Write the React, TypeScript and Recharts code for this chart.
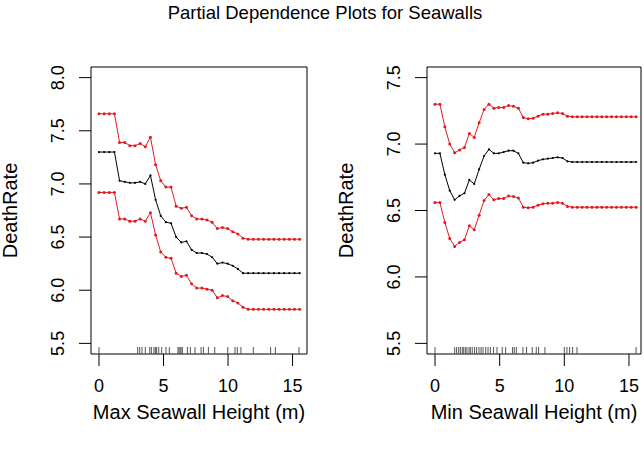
import React from 'react';
import { ComposedChart, Line, Scatter, XAxis, YAxis, ReferenceArea } from 'recharts';

// ---------- data ----------
const maxHeightX = [
  0, 0.399, 0.797, 1.196, 1.595, 1.994, 2.392, 2.791, 3.19, 3.588,
  3.987, 4.386, 4.784, 5.183, 5.582, 5.981, 6.379, 6.778, 7.177, 7.575,
  7.974, 8.373, 8.771, 9.17, 9.569, 9.968, 10.366, 10.765, 11.164, 11.562,
  11.961, 12.36, 12.758, 13.157, 13.556, 13.955, 14.353, 14.752, 15.151, 15.549,
];
const maxHeightFit = [
  7.3, 7.3, 7.3, 7.3, 7.03, 7.02, 7.01, 7.01, 7.02, 7.0,
  7.08, 6.85, 6.7, 6.64, 6.63, 6.5, 6.45, 6.46, 6.38, 6.35,
  6.35, 6.34, 6.31, 6.25, 6.26, 6.25, 6.23, 6.2, 6.16, 6.16,
  6.16, 6.16, 6.16, 6.16, 6.16, 6.16, 6.16, 6.16, 6.16, 6.16,
];
const maxHeightUpper = [
  7.66, 7.66, 7.66, 7.66, 7.39, 7.39, 7.36, 7.36, 7.38, 7.35,
  7.44, 7.18, 7.03, 6.97, 6.97, 6.79, 6.77, 6.78, 6.7, 6.67,
  6.67, 6.66, 6.64, 6.58, 6.59, 6.58, 6.55, 6.53, 6.49, 6.48,
  6.48, 6.48, 6.48, 6.48, 6.48, 6.48, 6.48, 6.48, 6.48, 6.48,
];
const maxHeightLower = [
  6.92, 6.92, 6.92, 6.92, 6.67, 6.67, 6.65, 6.65, 6.67, 6.65,
  6.73, 6.52, 6.36, 6.31, 6.3, 6.16, 6.13, 6.14, 6.06, 6.02,
  6.02, 6.01, 6.0, 5.93, 5.95, 5.94, 5.9, 5.88, 5.84, 5.82,
  5.82, 5.82, 5.82, 5.82, 5.82, 5.82, 5.82, 5.82, 5.82, 5.82,
];

const minHeightX = [
  0, 0.379, 0.759, 1.138, 1.517, 1.896, 2.276, 2.655, 3.034, 3.413,
  3.793, 4.172, 4.551, 4.931, 5.31, 5.689, 6.068, 6.448, 6.827, 7.206,
  7.585, 7.965, 8.344, 8.723, 9.102, 9.482, 9.861, 10.24, 10.62, 10.999,
  11.378, 11.757, 12.137, 12.516, 12.895, 13.274, 13.654, 14.033, 14.412, 14.791,
  15.171, 15.55,
];
const minHeightFit = [
  6.93, 6.93, 6.77, 6.65, 6.58, 6.61, 6.63, 6.73, 6.7, 6.81,
  6.91, 6.96, 6.93, 6.93, 6.94, 6.95, 6.95, 6.93, 6.86, 6.855,
  6.86, 6.875, 6.885, 6.89, 6.895, 6.9, 6.895, 6.87, 6.865, 6.865,
  6.865, 6.865, 6.865, 6.865, 6.865, 6.865, 6.865, 6.865, 6.865, 6.865,
  6.865, 6.865,
];
const minHeightUpper = [
  7.3, 7.3, 7.13, 7.0, 6.935, 6.955, 6.975, 7.08, 7.05, 7.16,
  7.26, 7.3, 7.27, 7.275, 7.275, 7.29, 7.285, 7.27, 7.2, 7.19,
  7.195, 7.21, 7.225, 7.225, 7.23, 7.235, 7.23, 7.21, 7.205, 7.205,
  7.205, 7.205, 7.205, 7.205, 7.205, 7.205, 7.205, 7.205, 7.205, 7.205,
  7.205, 7.205,
];
const minHeightLower = [
  6.56, 6.56, 6.41, 6.29, 6.23, 6.26, 6.28, 6.385, 6.355, 6.465,
  6.575, 6.62, 6.58, 6.59, 6.59, 6.61, 6.605, 6.595, 6.525, 6.52,
  6.525, 6.54, 6.55, 6.555, 6.555, 6.56, 6.555, 6.53, 6.525, 6.525,
  6.525, 6.525, 6.525, 6.525, 6.525, 6.525, 6.525, 6.525, 6.525, 6.525,
  6.525, 6.525,
];

const maxHeightRug = [
  0, 3.0, 3.15, 3.33, 3.59, 3.93, 4.06, 4.26, 4.37, 4.47, 4.63, 4.86, 5.19, 5.45,
  6.12, 6.2, 6.28, 6.36, 6.46, 6.85, 7.08, 7.44, 7.91, 8.09, 8.48, 8.97, 9.98,
  10.54, 10.72, 11.0, 11.96, 13.3, 13.67, 15.5,
];
const minHeightRug = [
  0, 1.52, 1.67, 1.83, 1.96, 2.11, 2.22, 2.35, 2.47, 2.63, 2.73, 2.88, 3.06, 3.22,
  3.4, 3.56, 3.71, 3.92, 4.1, 4.28, 4.53, 4.79, 5.2, 5.46, 6.0, 6.13, 6.29, 6.8,
  7.08, 7.52, 7.83, 8.01, 8.5, 10.0, 10.2, 10.41, 10.64, 10.98, 15.55,
];

const xTicks = [0, 5, 10, 15];
const maxHeightYTicks = [5.5, 6.0, 6.5, 7.0, 7.5, 8.0];
const minHeightYTicks = [5.5, 6.0, 6.5, 7.0, 7.5];

const titleText = 'Partial Dependence Plots for Seawalls';
const yLabelText = 'DeathRate';
const maxHeightLabel = 'Max Seawall Height (m)';
const minHeightLabel = 'Min Seawall Height (m)';

// ---------- styling ----------
const FONT = '"Liberation Sans", Arial, Helvetica, sans-serif';
const RED = '#e3191f';
const PLOT_TOP = 67;
const PLOT_BOTTOM = 354;
const H = 451;

type PanelProps = {
  offsetLeft: number;
  width: number;
  plotLeft: number;
  plotRight: number;
  xs: number[];
  fit: number[];
  upper: number[];
  lower: number[];
  rug: number[];
  xDomain: [number, number];
  yDomain: [number, number];
  yTicks: number[];
  xLabel: string;
};

function Panel(p: PanelProps) {
  const rows = p.xs.map((x, i) => ({ x, fit: p.fit[i], upper: p.upper[i], lower: p.lower[i] }));
  const rugRows = p.rug.map((x) => ({ x, y: p.yDomain[0] }));
  const yAxisW = 40;
  const xAxisH = 30;
  const center = (p.plotLeft + p.plotRight) / 2;
  const midY = (PLOT_TOP + PLOT_BOTTOM) / 2;

  const XTick = (props: any) => (
    <text x={props.x} y={392} textAnchor="middle" fontFamily={FONT} fontSize={18} fill="#000">
      {props.payload.value}
    </text>
  );
  const YTick = (props: any) => {
    const bx = p.plotLeft - 27;
    return (
      <text
        x={bx}
        y={props.y}
        transform={`rotate(-90, ${bx}, ${props.y})`}
        textAnchor="middle"
        fontFamily={FONT}
        fontSize={18}
        fill="#000"
      >
        {Number(props.payload.value).toFixed(1)}
      </text>
    );
  };
  const YTitle = () => {
    const bx = p.plotLeft - 74;
    return (
      <text
        x={bx}
        y={midY}
        transform={`rotate(-90, ${bx}, ${midY})`}
        textAnchor="middle"
        fontFamily={FONT}
        fontSize={20}
        fill="#000"
      >
        {yLabelText}
      </text>
    );
  };
  const XTitle = () => (
    <text x={center} y={419} textAnchor="middle" fontFamily={FONT} fontSize={20} fill="#000">
      {p.xLabel}
    </text>
  );
  const RugMark = (props: any) => (
    <line x1={props.cx} x2={props.cx} y1={PLOT_BOTTOM} y2={PLOT_BOTTOM - 7} stroke="#555" strokeWidth={1} />
  );

  return (
    <div style={{ position: 'absolute', left: p.offsetLeft, top: 0, width: p.width, height: H }}>
      <ComposedChart
        width={p.width}
        height={H}
        data={rows}
        margin={{
          top: PLOT_TOP,
          bottom: H - PLOT_BOTTOM - xAxisH,
          left: p.plotLeft - yAxisW,
          right: p.width - p.plotRight,
        }}
      >
        <XAxis
          type="number"
          dataKey="x"
          domain={p.xDomain}
          ticks={xTicks}
          allowDataOverflow
          height={xAxisH}
          axisLine={false}
          tickLine={{ stroke: '#000', strokeWidth: 1 }}
          tickSize={12}
          tick={<XTick />}
          interval={0}
          label={<XTitle />}
        />
        <YAxis
          type="number"
          domain={p.yDomain}
          ticks={p.yTicks}
          allowDataOverflow
          width={yAxisW}
          axisLine={false}
          tickLine={{ stroke: '#000', strokeWidth: 1 }}
          tickSize={12}
          tick={<YTick />}
          interval={0}
          label={<YTitle />}
        />
        <ReferenceArea
          x1={p.xDomain[0]}
          x2={p.xDomain[1]}
          y1={p.yDomain[0]}
          y2={p.yDomain[1]}
          fill="none"
          fillOpacity={0}
          stroke="#000"
          strokeWidth={1}
          ifOverflow="visible"
        />
        <Scatter data={rugRows} dataKey="y" shape={<RugMark />} isAnimationActive={false} />
        <Line
          dataKey="upper"
          stroke={RED}
          strokeWidth={1}
          dot={{ r: 1.5, fill: RED, stroke: 'none' }}
          activeDot={false}
          isAnimationActive={false}
        />
        <Line
          dataKey="lower"
          stroke={RED}
          strokeWidth={1}
          dot={{ r: 1.5, fill: RED, stroke: 'none' }}
          activeDot={false}
          isAnimationActive={false}
        />
        <Line
          dataKey="fit"
          stroke="#000"
          strokeWidth={1}
          dot={{ r: 1.1, fill: '#000', stroke: 'none' }}
          activeDot={false}
          isAnimationActive={false}
        />
      </ComposedChart>
    </div>
  );
}

export default function App() {
  return (
    <div style={{ position: 'absolute', left: 0, top: 0, width: 644, height: H, background: '#fff', overflow: 'hidden' }}>
      <svg width={644} height={30} style={{ position: 'absolute', left: 0, top: 0 }}>
        <text x={325} y={18.5} textAnchor="middle" fontFamily={FONT} fontSize={18.5} fill="#000">
          {titleText}
        </text>
      </svg>
      <Panel
        offsetLeft={0}
        width={322}
        plotLeft={91}
        plotRight={307}
        xs={maxHeightX}
        fit={maxHeightFit}
        upper={maxHeightUpper}
        lower={maxHeightLower}
        rug={maxHeightRug}
        xDomain={[-0.62, 16.12]}
        yDomain={[5.4, 8.1]}
        yTicks={maxHeightYTicks}
        xLabel={maxHeightLabel}
      />
      <Panel
        offsetLeft={322}
        width={322}
        plotLeft={105}
        plotRight={319}
        xs={minHeightX}
        fit={minHeightFit}
        upper={minHeightUpper}
        lower={minHeightLower}
        rug={minHeightRug}
        xDomain={[-0.62, 15.93]}
        yDomain={[5.42, 7.58]}
        yTicks={minHeightYTicks}
        xLabel={minHeightLabel}
      />
    </div>
  );
}
